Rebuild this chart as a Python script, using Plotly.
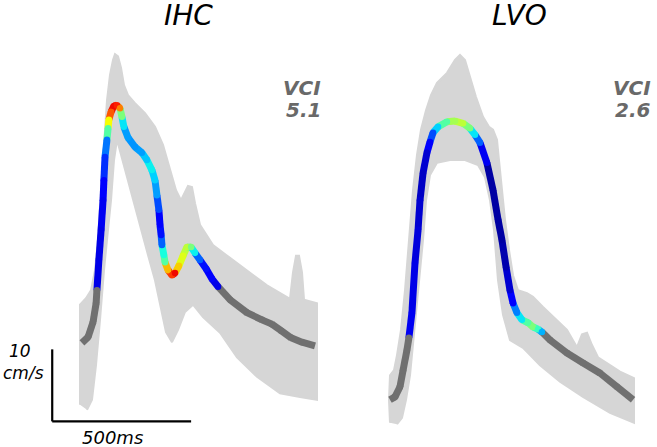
import math
import plotly.graph_objects as go
from plotly.colors import sample_colorscale

# ---------------- data (time in ms, velocity in cm/s) ----------------
# IHC: ensemble-average waveform and normalised beat-to-beat variability (None = outside window)
ihc_t = [7, 29, 47, 58, 61, 68, 76, 83, 86, 90, 97, 101, 104, 112, 122, 133, 144, 151, 158, 173,
         198, 223, 241, 259, 270, 277, 284, 288, 292, 295, 302, 306, 317, 331, 342, 356, 371, 385,
         400, 414, 432, 454, 475, 497, 540, 601, 655, 691, 724, 760, 799, 846]
ihc_v = [12.1, 12.9, 15.0, 17.6, 19.4, 23.6, 27.8, 31.9, 34.7, 37.9, 40.3, 41.9, 43.1, 44.2, 45.0,
         45.1, 44.7, 43.5, 42.1, 40.6, 39.3, 38.5, 37.5, 36.1, 34.7, 32.6, 30.6, 28.5, 27.1, 25.7,
         24.3, 23.3, 22.2, 21.5, 21.8, 22.8, 24.2, 25.4, 25.4, 24.6, 23.6, 22.4, 21.0, 19.9, 18.1,
         16.3, 15.3, 14.7, 13.8, 12.8, 12.2, 11.7]
ihc_var = [None, None, None, None, 0.09, 0.09, 0.10, 0.12, 0.17, 0.24, 0.45, 0.65, 0.82, 0.90,
           0.88, 0.78, 0.50, 0.35, 0.28, 0.27, 0.28, 0.32, 0.36, 0.33, 0.28, 0.20, 0.12, 0.14,
           0.22, 0.38, 0.45, 0.72, 0.85, 0.90, 0.70, 0.62, 0.58, 0.50, 0.36, 0.22, 0.14, 0.11,
           0.09, None, None, None, None, None, None, None, None, None]

# LVO
lvo_t = [0, 18, 36, 47, 61, 68, 79, 90, 101, 108, 119, 133, 144, 155, 173, 205, 234, 263, 288,
         306, 324, 349, 371, 389, 403, 418, 432, 443, 457, 475, 497, 515, 533, 547, 576, 637, 695,
         756, 817, 875]
lvo_v = [4.2, 4.6, 6.0, 8.3, 11.1, 12.8, 16.3, 23.2, 27.8, 31.9, 35.7, 38.5, 40.0, 41.3, 42.1,
         42.8, 42.9, 42.6, 41.9, 41.0, 39.9, 37.1, 33.3, 29.2, 26.4, 22.6, 19.4, 17.6, 16.3, 15.3,
         14.9, 14.3, 14.0, 13.6, 12.5, 10.7, 9.3, 7.9, 6.0, 4.2]
lvo_var = [None, None, None, None, None, 0.10, 0.09, 0.08, 0.07, 0.06, 0.07, 0.11, 0.20, 0.33,
           0.45, 0.55, 0.58, 0.50, 0.35, 0.22, 0.10, 0.03, 0.03, 0.03, 0.04, 0.07, 0.12, 0.25,
           0.35, 0.45, 0.50, 0.42, 0.30, None, None, None, None, None, None, None]

# envelopes of all individual beats (outline of the grey bundle)
ihc_env_t = [0, 0, 0, 21.6, 39.6, 54, 64.8, 75.6, 86.4, 97.2, 108, 118.8, 126, 136.8, 147.6, 158.4,
             172.8, 198, 234, 270, 298.8, 324, 345.6, 363.6, 378, 388.8, 403.2, 414, 432, 478.8,
             540, 601.2, 673.2, 756, 766.8, 777.6, 788.4, 799.2, 806.4, 853.2, 853.2, 792, 720,
             637.2, 565.2, 504, 442.8, 406.8, 378, 352.8, 331.2, 309.6, 288, 270, 244.8, 216,
             190.8, 169.2, 147.6, 133.2, 122.4, 111.6, 100.8, 86.4, 72, 57.6, 43.2, 25.2]
ihc_env_v = [3.5, 11.1, 17.4, 18.3, 19.4, 22.2, 26.4, 33.3, 40.3, 45.8, 49.3, 51.4, 52.2, 51.9,
             50.3, 47.9, 46.5, 45.4, 44.0, 42.1, 39.6, 36.1, 33.3, 31.9, 33.1, 33.9, 33.75, 31.5,
             28.5, 25.7, 23.9, 22.1, 20.1, 18.2, 21.9, 24.2, 24.2, 21.9, 18.1, 17.6, 4.2, 4.6, 5.1,
             7.4, 10.1, 13.5, 15.7, 17.4, 16.4, 13.9, 12.2, 13.6, 17.4, 20.8, 24.3, 28.5, 31.9,
             35.0, 38.2, 40.3, 37.5, 31.9, 27.8, 22.2, 15.3, 9.0, 4.2, 2.8]

lvo_env_t = [0, -3.6, 0, 14.4, 25.2, 39.6, 54, 68.4, 82.8, 97.2, 111.6, 129.6, 147.6, 169.2, 205.2,
             234, 252, 270, 288, 309.6, 334.8, 356.4, 370.8, 385.2, 392.4, 403.2, 414, 428.4,
             442.8, 460.8, 493.2, 514.8, 550.8, 637.2, 673.2, 691.2, 709.2, 727.2, 748.8, 828,
             878.4, 878.4, 792, 694.8, 612, 540, 478.8, 432, 406.8, 388.8, 374.4, 360, 342, 316.8,
             270, 216, 169.2, 144, 129.6, 118.8, 104.4, 93.6, 82.8, 72, 57.6, 43.2, 25.2]
lvo_env_v = [1.0, 4.2, 7.6, 8.3, 10.4, 13.9, 19.4, 26.4, 33.3, 38.2, 41.7, 44.4, 46.5, 48.2, 49.6,
             51.4, 52.1, 51.4, 48.9, 46.25, 43.5, 42.1, 41.7, 40.3, 37.5, 33.3, 29.2, 25.0, 21.5,
             19.4, 19.0, 18.5, 17.1, 13.9, 11.5, 13.3, 13.5, 11.8, 10.1, 8.1, 7.2, 1.0, 2.4, 4.6,
             6.7, 9.0, 11.4, 12.5, 16.0, 20.8, 27.8, 31.9, 35.1, 36.8, 37.5, 37.5, 37.1, 35.4, 31.9,
             26.4, 20.8, 16.0, 11.8, 7.6, 4.2, 1.7, 0.8]

groups = ["IHC", "LVO"]
vci_values = ["5.1", "2.6"]
scale_ms = 500
scale_cms = 10

# ---------------- styling ----------------
JET = [[0.0, "rgb(0,0,128)"], [0.11, "rgb(0,0,255)"], [0.125, "rgb(0,0,255)"],
       [0.34, "rgb(0,219,255)"], [0.375, "rgb(20,255,226)"], [0.625, "rgb(226,255,20)"],
       [0.65, "rgb(247,255,0)"], [0.875, "rgb(255,33,0)"], [0.91, "rgb(232,0,0)"],
       [1.0, "rgb(128,0,0)"]]
BUNDLE = "rgb(214,214,214)"
MEAN_GREY = "rgb(112,112,112)"
LW = 7

fig = go.Figure()


def add_panel(t, v, var, env_t, env_v, xa, ya):
    fig.add_trace(go.Scatter(x=env_t, y=env_v, mode="lines", fill="toself", fillcolor=BUNDLE,
                             line=dict(color=BUNDLE, width=2), xaxis=xa, yaxis=ya,
                             hoverinfo="skip", showlegend=False))
    cols = []
    for i in range(len(t)):
        c = var[i]
        cols.append(MEAN_GREY if c is None else sample_colorscale(JET, [c])[0])
    for i in range(len(t) - 1):
        fig.add_trace(go.Scatter(x=[t[i], t[i + 1]], y=[v[i], v[i + 1]], mode="lines",
                                 line=dict(color=cols[i], width=LW), xaxis=xa, yaxis=ya,
                                 hoverinfo="skip", showlegend=False))
    jcols = [cols[max(i - 1, 0)] for i in range(len(t))]
    fig.add_trace(go.Scatter(x=t[1:-1], y=v[1:-1], mode="markers",
                             marker=dict(color=jcols[1:-1], size=LW - 0.5, line=dict(width=0)),
                             xaxis=xa, yaxis=ya, hoverinfo="skip", showlegend=False))


add_panel(ihc_t, ihc_v, ihc_var, ihc_env_t, ihc_env_v, "x", "y")
add_panel(lvo_t, lvo_v, lvo_var, lvo_env_t, lvo_env_v, "x2", "y")

# scale bars
sx0, sy0 = -100, 1.2
fig.add_shape(type="line", xref="x", yref="y", x0=sx0, x1=sx0, y0=sy0, y1=sy0 + scale_cms,
              line=dict(color="black", width=2.2))
fig.add_shape(type="line", xref="x", yref="y", x0=sx0, x1=sx0 + scale_ms, y0=sy0, y1=sy0,
              line=dict(color="black", width=2.2))

FONT = "DejaVu Sans"
ann = []
for name, xc, xr, vci in [(groups[0], 188, 323, vci_values[0]), (groups[1], 519, 653, vci_values[1])]:
    ann.append(dict(text=name, x=xc / 657, y=1 - 16 / 447, xref="paper", yref="paper",
                    showarrow=False, xanchor="center", yanchor="middle",
                    font=dict(family=FONT, size=28, color="black", style="italic")))
    ann.append(dict(text="VCI", x=xr / 657, y=1 - 88 / 447, xref="paper", yref="paper",
                    showarrow=False, xanchor="right", yanchor="middle",
                    font=dict(family=FONT, size=20, color="rgb(105,105,105)", style="italic",
                              weight="bold")))
    ann.append(dict(text=vci, x=xr / 657, y=1 - 110 / 447, xref="paper", yref="paper",
                    showarrow=False, xanchor="right", yanchor="middle",
                    font=dict(family=FONT, size=20, color="rgb(105,105,105)", style="italic",
                              weight="bold")))
ann.append(dict(text=f"{scale_cms}", x=20 / 657, y=1 - 351 / 447, xref="paper", yref="paper",
                showarrow=False, xanchor="center", yanchor="middle",
                font=dict(family=FONT, size=17, color="black", style="italic")))
ann.append(dict(text="cm/s", x=23 / 657, y=1 - 373 / 447, xref="paper", yref="paper",
                showarrow=False, xanchor="center", yanchor="middle",
                font=dict(family=FONT, size=17, color="black", style="italic")))
ann.append(dict(text=f"{scale_ms}ms", x=112 / 657, y=1 - 437 / 447, xref="paper", yref="paper",
                showarrow=False, xanchor="center", yanchor="middle",
                font=dict(family=FONT, size=18, color="black", style="italic")))

ax_common = dict(showgrid=False, zeroline=False, showticklabels=False, showline=False, ticks="")
fig.update_layout(
    width=657, height=447, autosize=False,
    margin=dict(l=0, r=0, t=0, b=0),
    paper_bgcolor="white", plot_bgcolor="white",
    xaxis=dict(domain=[0, 0.5], range=[-288, 894.6], **ax_common),
    xaxis2=dict(domain=[0.5, 1], range=[-221.4, 961.2], **ax_common),
    yaxis=dict(domain=[0, 1], range=[-2.36, 59.72], **ax_common),
    annotations=ann,
    showlegend=False,
)

fig.write_html("out.html", config={"displayModeBar": False},
               post_script="document.body.style.margin='0px';document.body.style.overflow='hidden';")
